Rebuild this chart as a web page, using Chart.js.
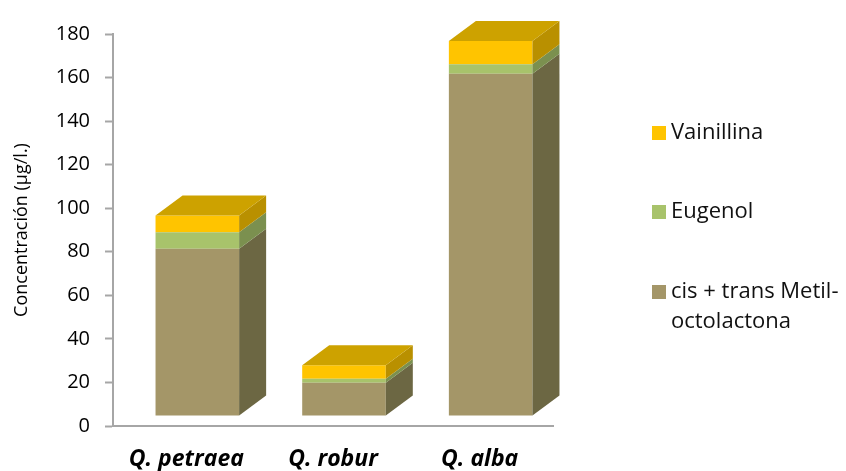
<!DOCTYPE html>
<html>
<head>
<meta charset="utf-8">
<script src="https://cdn.jsdelivr.net/npm/chart.js@4/dist/chart.umd.min.js"></script>
<style>
  html, body { margin: 0; padding: 0; background: #fff; }
  #wrap { width: 846px; height: 471px; position: relative; }
</style>
</head>
<body>
<div id="wrap"><canvas id="grafico"></canvas></div>
<script>
// Datos del grafico
const especies = ['Q. petraea', 'Q. robur', 'Q. alba'];
const metilOctolactona = [76.8, 15.3, 157.2];
const eugenol = [7.6, 1.8, 4.3];
const vainillina = [7.7, 6.2, 10.7];
const ejeTicks = [0, 20, 40, 60, 80, 100, 120, 140, 160, 180];

// colores: frente, lado
const colores = {
  metil: { front: '#A49668', side: '#6C6743' },
  eugenol: { front: '#A8C36B', side: '#7B904F' },
  vainillina: { front: '#FFC400', side: '#B99000' }
};
const colorTapa = '#CDA200';

// profundidad 3D y separacion del suelo
const prof = { dx: 27, dy: 20 };
const hueco = { dx: 11, dy: 10 };

const plugin3D = {
  id: 'barras3d',
  beforeDatasetsDraw(chart) {
    chart.ctx.save();
    chart.ctx.translate(hueco.dx, -hueco.dy);
  },
  afterDatasetsDraw(chart) {
    const ctx = chart.ctx;
    const n = chart.data.datasets.length;
    chart.data.datasets.forEach((ds, i) => {
      const meta = chart.getDatasetMeta(i);
      meta.data.forEach(bar => {
        const r = bar.x + bar.width / 2;
        const l = bar.x - bar.width / 2;
        // cara lateral
        ctx.fillStyle = ds.sideColor;
        ctx.beginPath();
        ctx.moveTo(r, bar.y);
        ctx.lineTo(r + prof.dx, bar.y - prof.dy);
        ctx.lineTo(r + prof.dx, bar.base - prof.dy);
        ctx.lineTo(r, bar.base);
        ctx.closePath();
        ctx.fill();
        // tapa superior
        if (i === n - 1) {
          ctx.fillStyle = colorTapa;
          ctx.beginPath();
          ctx.moveTo(l, bar.y);
          ctx.lineTo(l + prof.dx, bar.y - prof.dy);
          ctx.lineTo(r + prof.dx, bar.y - prof.dy);
          ctx.lineTo(r, bar.y);
          ctx.closePath();
          ctx.fill();
        }
      });
    });
    ctx.restore();
  }
};

// leyenda a la derecha, en orden inverso
const pluginLeyenda = {
  id: 'leyenda',
  afterDraw(chart) {
    const ctx = chart.ctx;
    const filas = [133, 212, 292];
    const items = chart.data.datasets.slice().reverse();
    ctx.save();
    ctx.font = '22px "Open Sans", sans-serif';
    ctx.textBaseline = 'middle';
    ctx.textAlign = 'left';
    items.forEach((ds, i) => {
      const y = filas[i];
      ctx.fillStyle = ds.backgroundColor;
      ctx.fillRect(652, y - 7, 14, 14);
      ctx.fillStyle = '#111';
      const lineas = Array.isArray(ds.leyenda) ? ds.leyenda : [ds.label];
      lineas.forEach((t, k) => ctx.fillText(t, 671, y + k * 30));
    });
    ctx.restore();
  }
};

new Chart(document.getElementById('grafico'), {
  type: 'bar',
  data: {
    labels: especies,
    datasets: [
      {
        label: 'cis + trans Metil-octolactona',
        leyenda: ['cis + trans Metil-', 'octolactona'],
        data: metilOctolactona,
        backgroundColor: colores.metil.front,
        sideColor: colores.metil.side
      },
      {
        label: 'Eugenol',
        data: eugenol,
        backgroundColor: colores.eugenol.front,
        sideColor: colores.eugenol.side
      },
      {
        label: 'Vainillina',
        data: vainillina,
        backgroundColor: colores.vainillina.front,
        sideColor: colores.vainillina.side
      }
    ]
  },
  options: {
    responsive: true,
    maintainAspectRatio: false,
    animation: false,
    events: [],
    layout: { padding: { left: 11, right: 293, top: 34, bottom: 0 } },
    datasets: { bar: { categoryPercentage: 1, barPercentage: 0.57, clip: false } },
    plugins: {
      legend: { display: false },
      tooltip: { enabled: false }
    },
    scales: {
      x: {
        stacked: true,
        grid: { display: false, drawTicks: false },
        border: { color: '#A6A6A6', width: 2 },
        ticks: {
          color: '#000',
          padding: 20,
          font: { family: '"Open Sans", sans-serif', size: 23, weight: 'bold', style: 'italic' }
        },
        afterFit(scale) { scale.height = 45; }
      },
      y: {
        stacked: true,
        min: 0,
        max: 180,
        afterBuildTicks(scale) { scale.ticks = ejeTicks.map(v => ({ value: v })); },
        grid: { display: true, drawOnChartArea: false, drawTicks: true, tickLength: 8, tickWidth: 2, tickColor: '#A6A6A6' },
        border: { color: '#A6A6A6', width: 2 },
        ticks: {
          color: '#000',
          padding: 15,
          font: { family: '"Open Sans", sans-serif', size: 20 }
        },
        title: {
          display: true,
          text: 'Concentración (µg/l.)',
          color: '#000',
          padding: { top: 0, bottom: 6 },
          font: { family: '"Open Sans", sans-serif', size: 18 }
        },
        afterFit(scale) { scale.width = 102; }
      }
    }
  },
  plugins: [plugin3D, pluginLeyenda]
});
</script>
</body>
</html>
